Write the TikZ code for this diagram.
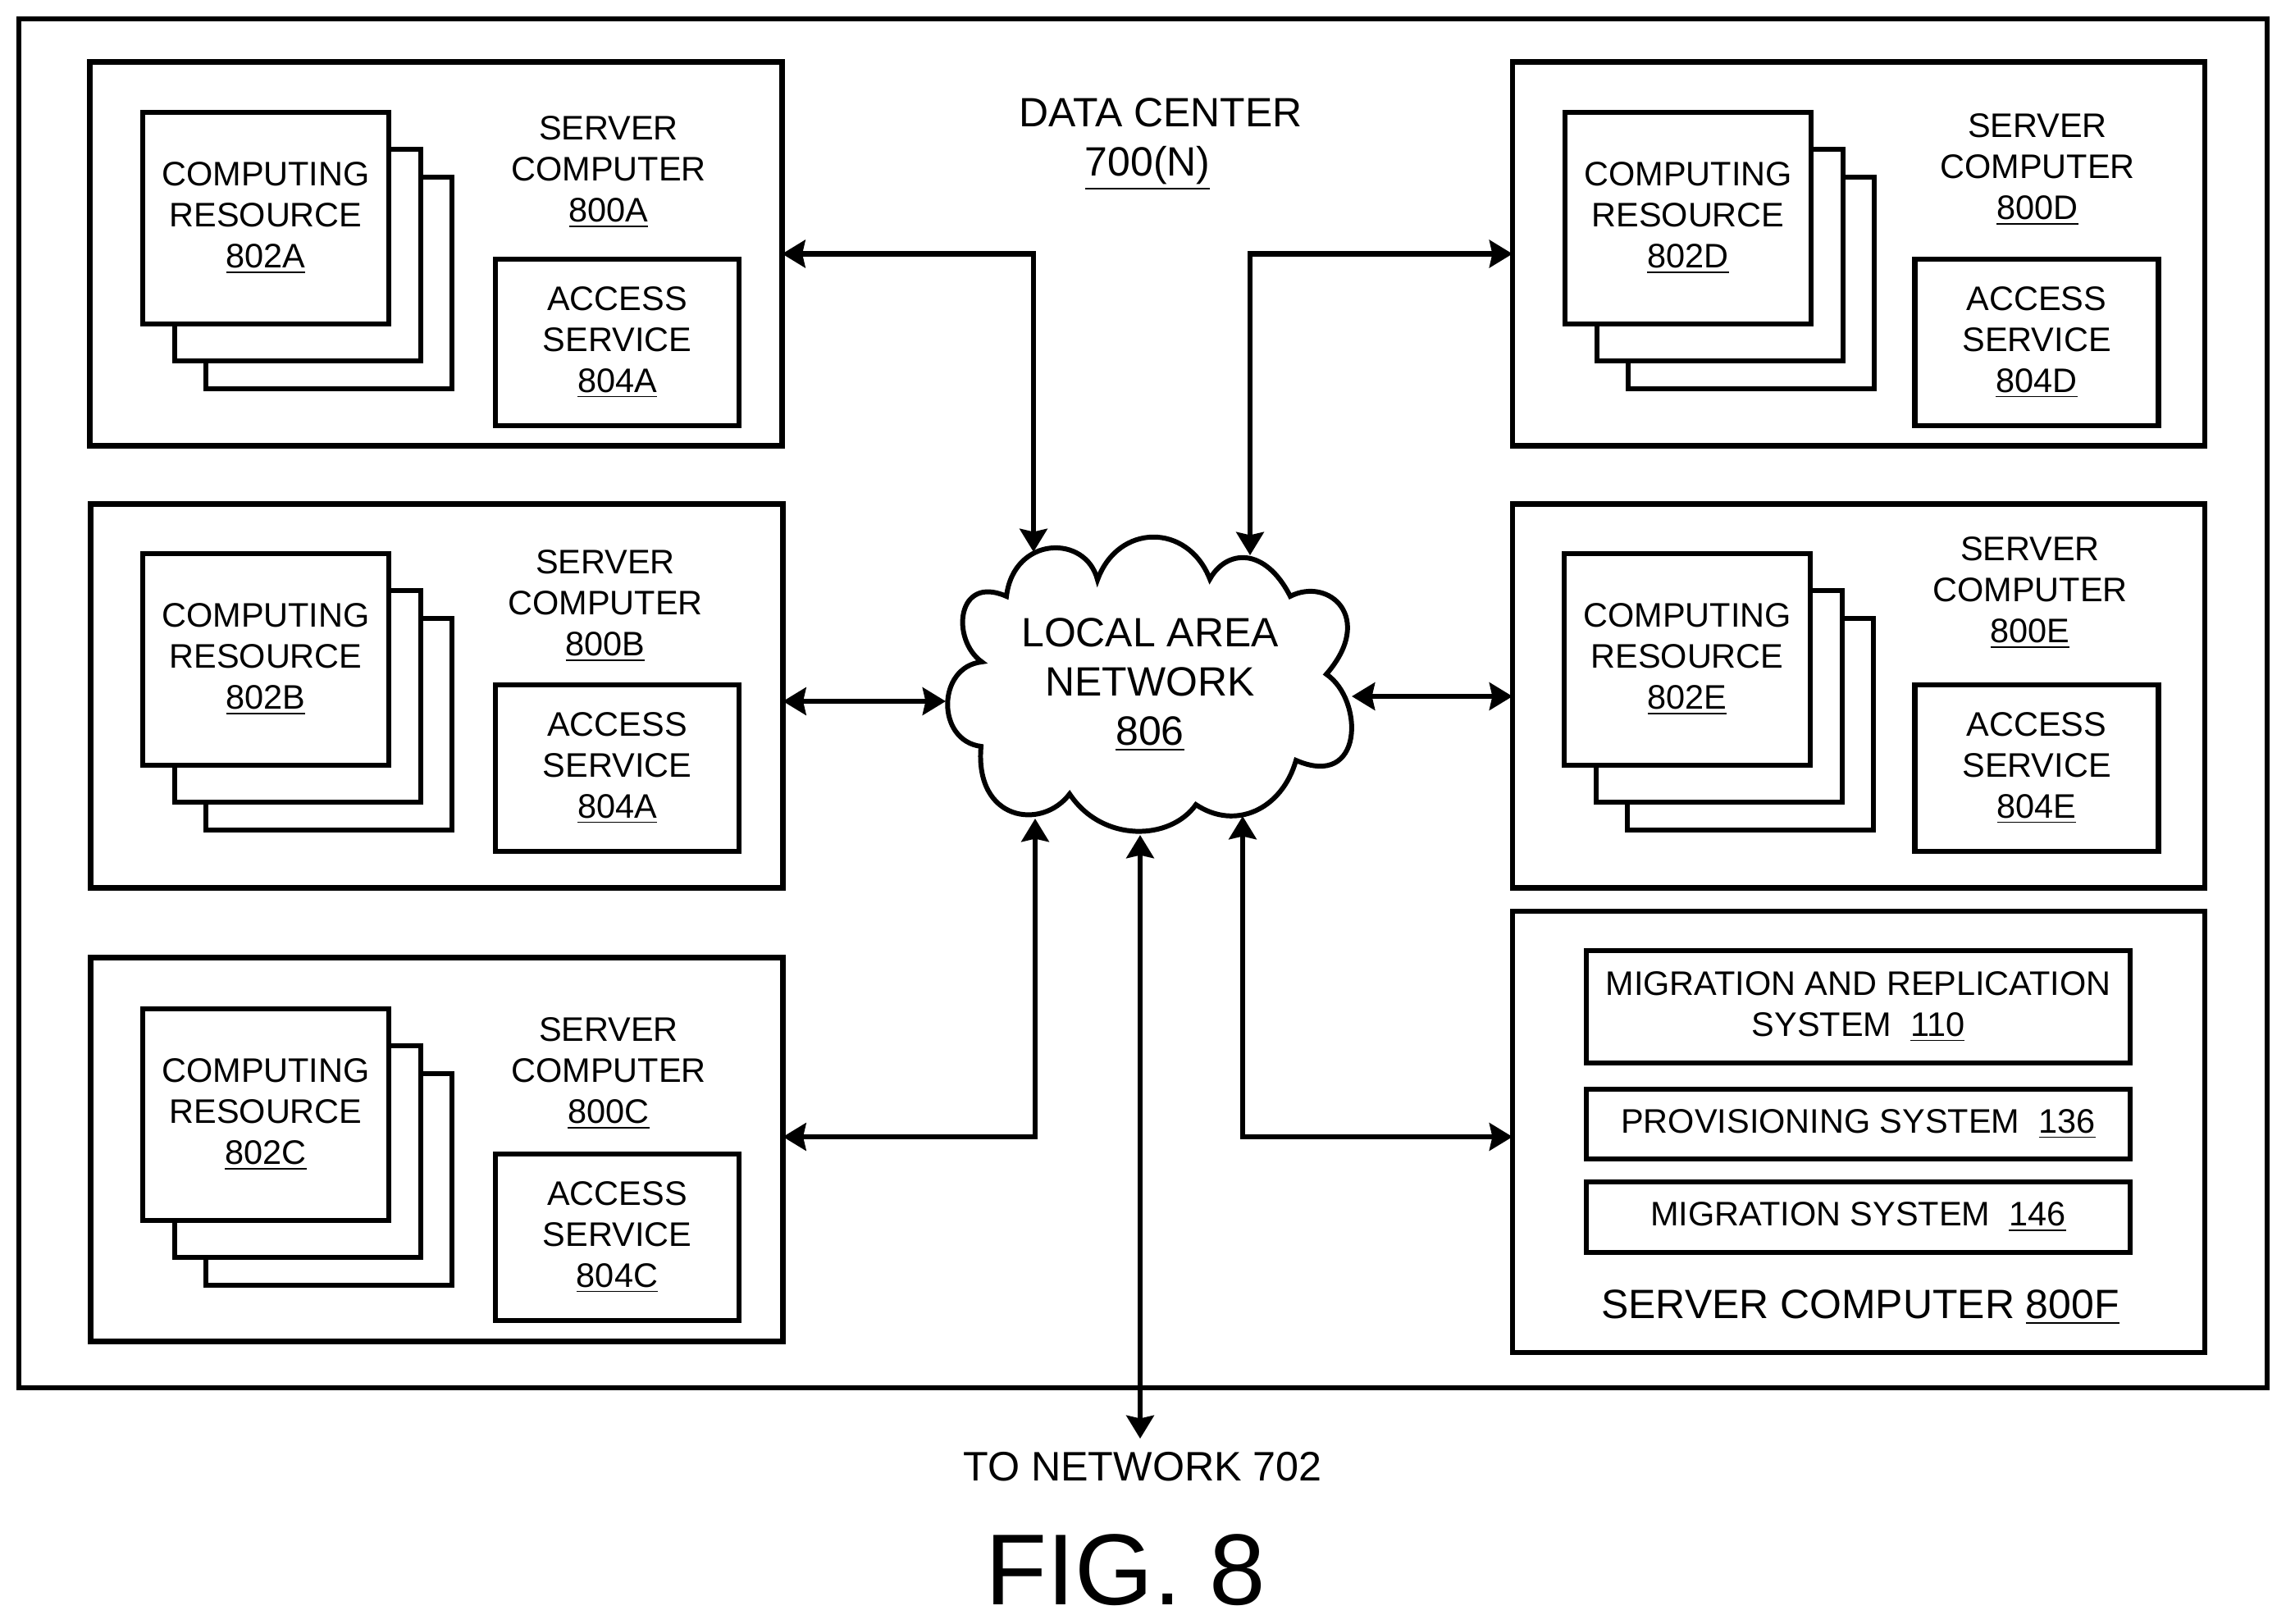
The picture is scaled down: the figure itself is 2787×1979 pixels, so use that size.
\documentclass[tikz,border=0pt]{standalone}
\usepackage{fontspec}
\setmainfont{Liberation Sans}
\usepackage{tikz}
\usetikzlibrary{arrows.meta,positioning,calc}
\tikzset{
  >={Stealth[length=8pt,width=9.5pt,inset=1pt]},
  every picture/.append style={line width=1.9pt},
  every node/.append style={font=\fontsize{11.8}{14.2}\selectfont},
  box/.style={draw, align=center, inner sep=0pt, fill=white},
  server/.style={box, outer sep=0pt, minimum width=84.4mm, minimum height=46.8mm},
  sheet/.style={box, minimum width=30mm, minimum height=25.8mm},
  midsheet/.style={sheet, xshift=-3.8mm, yshift=3.4mm},
  frontsheet/.style={sheet, xshift=-3.9mm, yshift=4.5mm},
  access/.style={box, minimum width=29.7mm, minimum height=20.3mm},
  system/.style={box, minimum width=66.3mm},
  note/.style={align=center, inner sep=0pt},
  bignote/.style={note, font=\fontsize{14.2}{17.1}\selectfont},
  link/.style={<->, line width=1.8pt}
}
\begin{document}
\begin{tikzpicture}[x=0.1mm, y=-0.1mm]
\useasboundingbox (0,0) rectangle (2787,1979);

% Outer data center frame
\node[box, minimum width=274.1mm, minimum height=166.9mm] (dc) at (1393.5,857.5) {};
\node[bignote] (dctext) at (1415,176) {DATA CENTER\\\underline{700(N)}\kern 9pt};

% Server boxes
\node[server] (srvA) at (531.5,309.5) {};
\node[server] (srvB) at (532.5,848.5) {};
\node[server] (srvC) at (532.5,1401.5) {};
\node[server] (srvD) at (2266,309.5) {};
\node[server] (srvE) at (2266,848.5) {};
\node[server, minimum height=53.8mm] (srvF) at (2266,1380) {};

% Computing resources - back sheet first, front sheet last
\node[sheet] (backA) at (401,345) {};
\node[midsheet] (midA) at (backA) {};
\node[frontsheet] (frontA) at (midA) {COMPUTING\\RESOURCE\\\underline{802A}};
\node[sheet] (backB) at (401,883) {};
\node[midsheet] (midB) at (backB) {};
\node[frontsheet] (frontB) at (midB) {COMPUTING\\RESOURCE\\\underline{802B}};
\node[sheet] (backC) at (401,1438) {};
\node[midsheet] (midC) at (backC) {};
\node[frontsheet] (frontC) at (midC) {COMPUTING\\RESOURCE\\\underline{802C}};
\node[sheet] (backD) at (2135,345) {};
\node[midsheet] (midD) at (backD) {};
\node[frontsheet] (frontD) at (midD) {COMPUTING\\RESOURCE\\\underline{802D}};
\node[sheet] (backE) at (2134,883) {};
\node[midsheet] (midE) at (backE) {};
\node[frontsheet] (frontE) at (midE) {COMPUTING\\RESOURCE\\\underline{802E}};

% Server labels
\node[note] (nameA) at (742,210) {SERVER\\COMPUTER\\\underline{800A}};
\node[note] (nameB) at (738,739) {SERVER\\COMPUTER\\\underline{800B}};
\node[note] (nameC) at (742,1309) {SERVER\\COMPUTER\\\underline{800C}};
\node[note] (nameD) at (2484,207) {SERVER\\COMPUTER\\\underline{800D}};
\node[note] (nameE) at (2475,723) {SERVER\\COMPUTER\\\underline{800E}};

% Access services
\node[access] (accA) at (752.5,417.5) {ACCESS\\SERVICE\\\underline{804A}};
\node[access] (accB) at (752.5,936.5) {ACCESS\\SERVICE\\\underline{804A}};
\node[access] (accC) at (752.5,1508.5) {ACCESS\\SERVICE\\\underline{804C}};
\node[access] (accD) at (2483,417.5) {ACCESS\\SERVICE\\\underline{804D}};
\node[access] (accE) at (2483,936.5) {ACCESS\\SERVICE\\\underline{804E}};

% Systems on server F
\node[system, minimum height=13.7mm] (migrep) at (2265.5,1227.5) {MIGRATION AND REPLICATION\\SYSTEM~~\underline{110}};
\node[system, minimum height=8.5mm] (prov) at (2265.5,1370.5) {PROVISIONING SYSTEM~~\underline{136}};
\node[system, minimum height=8.6mm] (migr) at (2265.5,1484) {MIGRATION SYSTEM~~\underline{146}};
\node[bignote] (nameF) at (2268,1594) {SERVER COMPUTER \underline{800F}};

% Cloud outline, lobe by lobe
\draw[line width=1.7pt] (1227,727) .. controls (1236,653) and (1324,651) .. (1338,707)
  .. controls (1363,638) and (1448,637) .. (1475,706)
  .. controls (1495,670) and (1542,666) .. (1573,727)
  .. controls (1620,703) and (1677,753) .. (1617,822)
  .. controls (1663,853) and (1663,963) .. (1580,927)
  .. controls (1563,987) and (1506,1013) .. (1458,981)
  .. controls (1427,1025) and (1344,1028) .. (1304,968)
  .. controls (1270,1013) and (1188,1001) .. (1196,910)
  .. controls (1141,903) and (1142,813) .. (1197,807)
  .. controls (1159,780) and (1166,700) .. (1227,727) -- cycle;
\node[bignote] (lan) at (1402,835) {LOCAL AREA\\NETWORK\\\underline{806}};

% Free ends of the connectors on the cloud
\coordinate (lanA) at (1260,673);
\coordinate (lanB) at (1153,855);
\coordinate (lanC) at (1262,998);
\coordinate (lanD) at (1524,677);
\coordinate (lanE) at (1648,849);
\coordinate (lanF) at (1515,995);
\coordinate (lanNet) at (1390,1018);
\coordinate (netEnd) at (1390,1754);
\coordinate (rowC) at (0,1386);

% Connectors
\draw[link] (srvA.east) -| (lanA);
\draw[link] (lanB -| srvB.east) -- (lanB);
\draw[link] (rowC -| srvC.east) -| (lanC);
\draw[link] (srvD.west) -| (lanD);
\draw[link] (lanE -| srvE.west) -- (lanE);
\draw[link] (rowC -| srvF.west) -| (lanF);
\draw[link] (lanNet) -- (netEnd);

% Bottom labels
\node[note, font=\fontsize{14.3}{17}\selectfont] (tonet) at (1393,1788) {TO NETWORK 702};
\node[note, font=\fontsize{35}{40}\selectfont] (fig) at (1372,1914) {FIG. 8};

\end{tikzpicture}
\end{document}
